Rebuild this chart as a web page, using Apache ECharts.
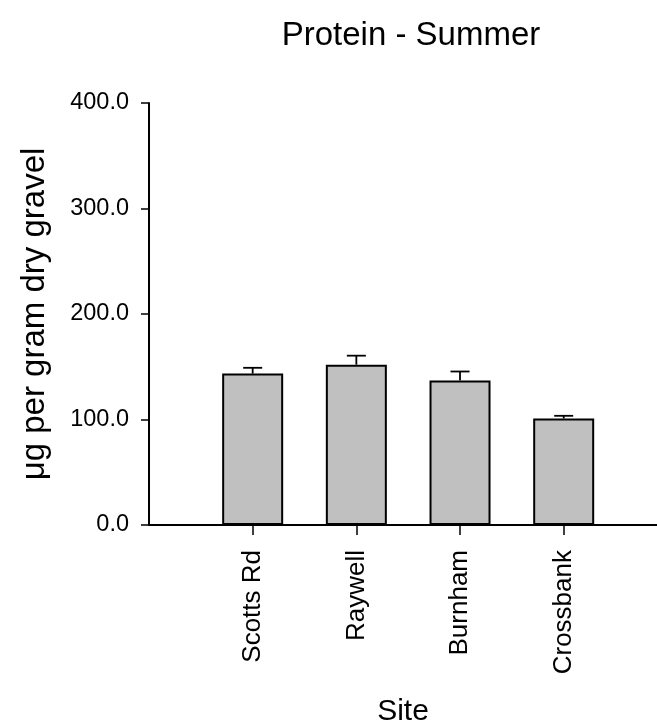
<!DOCTYPE html>
<html>
<head>
<meta charset="utf-8">
<style>
  html, body { margin: 0; padding: 0; background: #fff; }
  #chart { width: 657px; height: 726px; }
</style>
<script src="https://cdn.jsdelivr.net/npm/echarts@6/dist/echarts.min.js"></script>
</head>
<body>
<div id="chart"></div>
<script>
// Sites sampled and their mean protein content (with standard error)
const sites = ['Scotts Rd', 'Raywell', 'Burnham', 'Crossbank'];
const sitePositions = [1, 2, 3, 4];
const proteinMean = [143.5, 152, 137, 101];
const proteinSE = [5.5, 8.5, 8.5, 2.5];
const yTicks = [0, 100, 200, 300, 400];

const FONT = "'Liberation Sans', Arial, sans-serif";

const barData = sitePositions.map((x, i) => [x, proteinMean[i]]);
const errData = sitePositions.map((x, i) => [x, proteinMean[i], proteinMean[i] + proteinSE[i]]);

const chart = echarts.init(document.getElementById('chart'), null, { renderer: 'canvas' });

chart.setOption({
  backgroundColor: '#ffffff',
  animation: false,
  title: {
    text: 'Protein - Summer',
    left: 406,
    textAlign: 'center',
    top: 14,
    textStyle: { fontFamily: FONT, fontSize: 33, fontWeight: 'normal', color: '#000' }
  },
  grid: {
    left: 149, right: 0, top: 103, bottom: 201,
    containLabel: false,
    outerBoundsMode: 'none'
  },
  xAxis: {
    type: 'value',
    min: 0,
    max: 4.9,
    splitLine: { show: false },
    name: 'Site',
    nameLocation: 'middle',
    nameGap: 172,
    nameTextStyle: { fontFamily: FONT, fontSize: 30, color: '#000' },
    axisLine: { show: true, onZero: false, lineStyle: { color: '#000', width: 2 } },
    axisTick: {
      show: true, length: 10, inside: false,
      customValues: sitePositions,
      lineStyle: { color: '#000', width: 1.5 }
    },
    axisLabel: {
      customValues: sitePositions,
      rotate: 90,
      margin: 25,
      fontFamily: FONT,
      fontSize: 26,
      color: '#000',
      formatter: v => sites[sitePositions.indexOf(Math.round(v))] || ''
    }
  },
  yAxis: {
    type: 'value',
    min: yTicks[0],
    max: yTicks[yTicks.length - 1],
    interval: 100,
    splitLine: { show: false },
    name: 'μg per gram dry gravel',
    nameLocation: 'middle',
    nameGap: 98,
    nameTextStyle: { fontFamily: FONT, fontSize: 33, color: '#000' },
    axisLine: { show: true, lineStyle: { color: '#000', width: 2 } },
    axisTick: { show: true, length: 8, lineStyle: { color: '#000', width: 1.5 } },
    axisLabel: {
      margin: 20,
      fontFamily: FONT,
      fontSize: 23.5,
      color: '#000',
      formatter: v => v.toFixed(1)
    }
  },
  series: [
    {
      type: 'bar',
      data: barData,
      barWidth: 61,
      itemStyle: { color: '#c0c0c0', borderColor: '#000', borderWidth: 2 },
      z: 2
    },
    {
      type: 'custom',
      data: errData,
      z: 3,
      renderItem: function (params, api) {
        const x = api.value(0);
        const base = api.coord([x, api.value(1)]);
        const top = api.coord([x, api.value(2)]);
        const half = 9.5;
        const style = { stroke: '#000', lineWidth: 1.8 };
        return {
          type: 'group',
          children: [
            { type: 'line', shape: { x1: base[0], y1: base[1], x2: top[0], y2: top[1] }, style },
            { type: 'line', shape: { x1: top[0] - half, y1: top[1], x2: top[0] + half, y2: top[1] }, style }
          ]
        };
      }
    }
  ]
});
</script>
</body>
</html>
